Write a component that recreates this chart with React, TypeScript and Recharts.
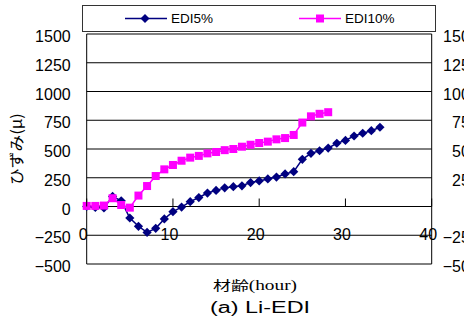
import React from 'react';
import { LineChart, Line, XAxis, YAxis, CartesianGrid } from 'recharts';

// 材齢 (hour)
const hours = [
  0, 1, 2, 3, 4, 5, 6, 7, 8, 9, 10, 11, 12, 13, 14, 15, 16, 17,
  18, 19, 20, 21, 22, 23, 24, 25, 26, 27, 28, 29, 30, 31, 32, 33, 34,
];
// ひずみ (μ)
const edi5 = [
  0, -8, -12, 88, 50, -100, -172, -225, -190, -108, -45, -5, 42, 78, 117, 140, 162, 172,
  180, 208, 222, 240, 256, 283, 303, 410, 462, 485, 508, 550, 575, 613, 637, 659, 689,
];
const edi10 = [
  5, 5, 8, 72, 13, -10, 95, 178, 265, 323, 361, 398, 425, 440, 462, 474, 490, 500,
  520, 537, 552, 564, 584, 595, 622, 730, 784, 806, 820,
];
const yTicks = [-500, -250, 0, 250, 500, 750, 1000, 1250, 1500];
const xTicks = [0, 10, 20, 30, 40];

const data = hours.map((h, i) => ({
  hour: h,
  edi5: edi5[i],
  edi10: i < edi10.length ? edi10[i] : null,
}));

const FONT = '"Liberation Sans", Arial, sans-serif';
const CJK = '"Noto Sans CJK JP", sans-serif';
const NAVY = '#000080';
const PINK = '#FF00FF';

// plot box: left 86.7, right 431.7, top 34, bottom 264
const PLOT_TOP = 34;
const PLOT_H = 230;
const ZERO_Y = PLOT_TOP + (PLOT_H * 1500) / 2000;

const fmt = (v: number) => (v < 0 ? '\u2212' + Math.abs(v) : String(v));

const LeftTick = ({ x, y, payload }: any) => (
  <text x={x - 16} y={y} dy={8} textAnchor="end" fontSize={16} fontFamily={FONT} fill="#000">
    {fmt(payload.value)}
  </text>
);

const RightTick = ({ x, y, payload }: any) => (
  <text x={x + 47} y={y} dy={8} textAnchor="end" fontSize={16} fontFamily={FONT} fill="#000">
    {fmt(payload.value)}
  </text>
);

const BottomTick = ({ x, y, payload }: any) => (
  <g>
    <line x1={x} x2={x} y1={ZERO_Y - 8} y2={ZERO_Y} stroke="#000" strokeWidth={1} />
    <text x={x - 3.5} y={y - 24.5} textAnchor="middle" fontSize={16} fontFamily={FONT} fill="#000">
      {payload.value}
    </text>
  </g>
);

const Diamond = ({ cx, cy }: any) =>
  cx == null || cy == null ? null : (
    <polygon
      points={`${cx},${cy - 4.6} ${cx + 4.6},${cy} ${cx},${cy + 4.6} ${cx - 4.6},${cy}`}
      fill={NAVY}
    />
  );

const Square = ({ cx, cy }: any) =>
  cx == null || cy == null ? null : <rect x={cx - 4} y={cy - 4} width={8} height={8} fill={PINK} />;

export default function App() {
  return (
    <div style={{ position: 'absolute', left: 0, top: 0, width: 464, height: 323, overflow: 'hidden', background: '#fff' }}>
      <LineChart
        width={464}
        height={323}
        data={data}
        margin={{ top: PLOT_TOP, right: 0, bottom: 0, left: 0 }}
      >
        <CartesianGrid vertical={false} stroke="#000" strokeWidth={1} yAxisId="left" />
        <XAxis
          dataKey="hour"
          type="number"
          domain={[0, 40]}
          ticks={xTicks}
          height={59}
          axisLine={false}
          tickLine={false}
          tickSize={0}
          tickMargin={0}
          tick={<BottomTick />}
        />
        <YAxis
          yAxisId="left"
          width={86.7}
          domain={[-500, 1500]}
          ticks={yTicks}
          interval={0}
          axisLine={{ stroke: '#000' }}
          tickLine={false}
          tickSize={0}
          tickMargin={0}
          tick={<LeftTick />}
        />
        <YAxis
          yAxisId="right"
          orientation="right"
          width={32.3}
          domain={[-500, 1500]}
          ticks={yTicks}
          interval={0}
          axisLine={{ stroke: '#000' }}
          tickLine={false}
          tickSize={0}
          tickMargin={0}
          tick={<RightTick />}
        />
        <Line
          yAxisId="left"
          dataKey="edi5"
          stroke={NAVY}
          strokeWidth={1.5}
          dot={<Diamond />}
          isAnimationActive={false}
        />
        <Line
          yAxisId="right"
          dataKey="edi10"
          stroke={PINK}
          strokeWidth={1.5}
          dot={<Square />}
          connectNulls={false}
          isAnimationActive={false}
        />
      </LineChart>
      <svg width={464} height={323} style={{ position: 'absolute', left: 0, top: 0, pointerEvents: 'none' }}>
        <rect x={82.5} y={5.5} width={353} height={26} fill="#fff" stroke="#333" />
        <line x1={125} x2={167} y1={18.5} y2={18.5} stroke={NAVY} strokeWidth={1.5} />
        <polygon points="145,14 149.5,18.5 145,23 140.5,18.5" fill={NAVY} />
        <text x={171} y={23.2} fontSize={13.5} fontFamily={FONT} fill="#000">EDI5%</text>
        <line x1={299} x2={341} y1={18.5} y2={18.5} stroke={PINK} strokeWidth={1.5} />
        <rect x={316} y={14.5} width={8} height={8} fill={PINK} />
        <text x={345} y={23.2} fontSize={13.5} fontFamily={FONT} fill="#000">EDI10%</text>

        <text
          transform="translate(16.5,149) rotate(-90)"
          textAnchor="middle"
          dy="0.35em"
          fontSize={15}
          fontFamily={CJK}
          fill="#000"
          textLength={72}
          lengthAdjust="spacingAndGlyphs"
        >
          ひずみ(μ)
        </text>
        <text
          x={255}
          y={289.5}
          textAnchor="middle"
          fontSize={13}
          fill="#000"
          textLength={84}
          lengthAdjust="spacingAndGlyphs"
        >
          <tspan fontFamily={CJK}>材齢</tspan>
          <tspan fontFamily='"Liberation Serif", serif' fontSize={14}>(hour)</tspan>
        </text>
        <text
          x={260}
          y={312.5}
          textAnchor="middle"
          fontSize={16}
          fontFamily={FONT}
          fill="#000"
          textLength={100}
          lengthAdjust="spacingAndGlyphs"
        >
          (a) Li-EDI
        </text>
      </svg>
    </div>
  );
}
